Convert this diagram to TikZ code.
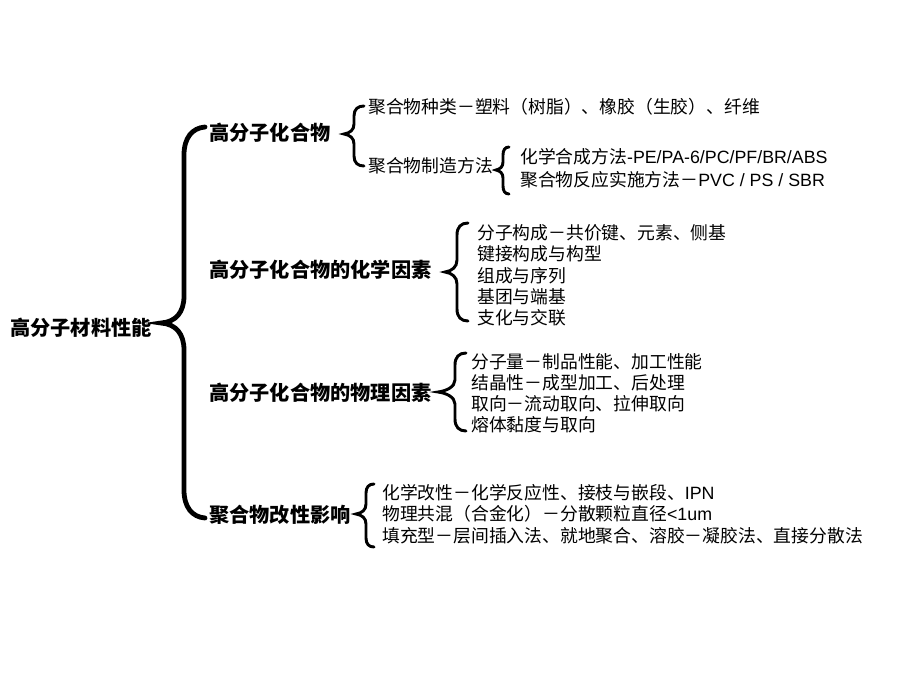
\documentclass[tikz,border=0pt]{standalone}
\usepackage{fontspec}
\setmainfont{Noto Sans CJK SC}
\newfontfamily\arialfont{Liberation Sans}
\usepackage{tikz}
\usetikzlibrary{positioning}

\tikzset{
  head/.style={font=\bfseries\fontsize{15.15pt}{18pt}\selectfont, anchor=west, inner sep=0pt},
  item/.style={font=\fontsize{13.35pt}{16pt}\selectfont, anchor=west, inner sep=0pt},
  bigbrace/.style={line width=3.6pt, line cap=round},
  smallbrace/.style={line width=2.2pt, line cap=round}
}

\begin{document}
\begin{tikzpicture}[x=0.75pt, y=-0.75pt]
\useasboundingbox[fill=white] (0,0) rectangle (920,690);
% root and main branches
\node[head] (perf) at (10,328) {高分子材料性能};
\node[head] (cmpd) at (209,133) {高分子化合物};
\node[head] (chem) at (209,270) {高分子化合物的化学因素};
\node[head] (phys) at (209,393) {高分子化合物的物理因素};
\node[head] (modif) at (209,515) {聚合物改性影响};
\draw[bigbrace] (205,127) .. controls (192,128) and (184,138) .. (184,155) -- (184,296) .. controls (184,312) and (176,322) .. (161,323) .. controls (176,324) and (184,334) .. (184,350) -- (184,490) .. controls (184,507) and (192,517) .. (205,518);
% compounds
\node[item] (kind) at (368,107) {聚合物种类－塑料（树脂）、橡胶（生胶）、纤维};
\node[item] (make) at (368,166) {聚合物制造方法};
\draw[smallbrace] (364,106) .. controls (358,106) and (354,109) .. (354,116) -- (354,124) .. controls (354,130) and (350,133) .. (344,134) .. controls (350,135) and (354,138) .. (354,144) -- (354,156) .. controls (354,163) and (358,166) .. (364,166);
\node[item] (synth) at (520,157) {化学合成方法{\arialfont-PE/PA-6/PC/PF/BR/ABS}};
\node[item] (react) at (520,180) {聚合物反应实施方法－{\arialfont PVC / PS / SBR}};
\draw[smallbrace] (509,147) .. controls (505,147) and (503,150) .. (503,155) -- (503,162) .. controls (503,167) and (500,169) .. (496,170) .. controls (500,171) and (503,173) .. (503,178) -- (503,186) .. controls (503,191) and (505,194) .. (509,194);
% chemical factors
\node[item] (chema) at (477,233) {分子构成－共价键、元素、侧基};
\node[item] (chemb) at (477,254) {键接构成与构型};
\node[item] (chemc) at (477,276) {组成与序列};
\node[item] (chemd) at (477,297) {基团与端基};
\node[item] (cheme) at (477,318) {支化与交联};
\draw[smallbrace] (468,223) .. controls (461,223) and (457,227) .. (457,235) -- (457,260) .. controls (457,267) and (452,271) .. (445,272) .. controls (452,273) and (457,277) .. (457,284) -- (457,309) .. controls (457,317) and (461,321) .. (468,321);
% physical factors
\node[item] (physa) at (471,362) {分子量－制品性能、加工性能};
\node[item] (physb) at (471,383) {结晶性－成型加工、后处理};
\node[item] (physc) at (471,404) {取向－流动取向、拉伸取向};
\node[item] (physd) at (471,425) {熔体黏度与取向};
\draw[smallbrace] (466,353) .. controls (459,353) and (455,357) .. (455,365) -- (455,380) .. controls (455,387) and (446,391) .. (438,392) .. controls (446,393) and (455,397) .. (455,404) -- (455,419) .. controls (455,427) and (459,431) .. (466,431);
% modification
\node[item] (moda) at (382,493) {化学改性－化学反应性、接枝与嵌段、{\arialfont IPN}};
\node[item] (modb) at (382,514) {物理共混（合金化）－分散颗粒直径{\arialfont <1um}};
\node[item] (modc) at (382,536) {填充型－层间插入法、就地聚合、溶胶－凝胶法、直接分散法};
\draw[smallbrace] (374,484) .. controls (369,484) and (366,487) .. (366,493) -- (366,504) .. controls (366,510) and (362,513) .. (356,514) .. controls (362,515) and (366,518) .. (366,524) -- (366,538) .. controls (366,544) and (369,547) .. (374,547);
\end{tikzpicture}
\end{document}
